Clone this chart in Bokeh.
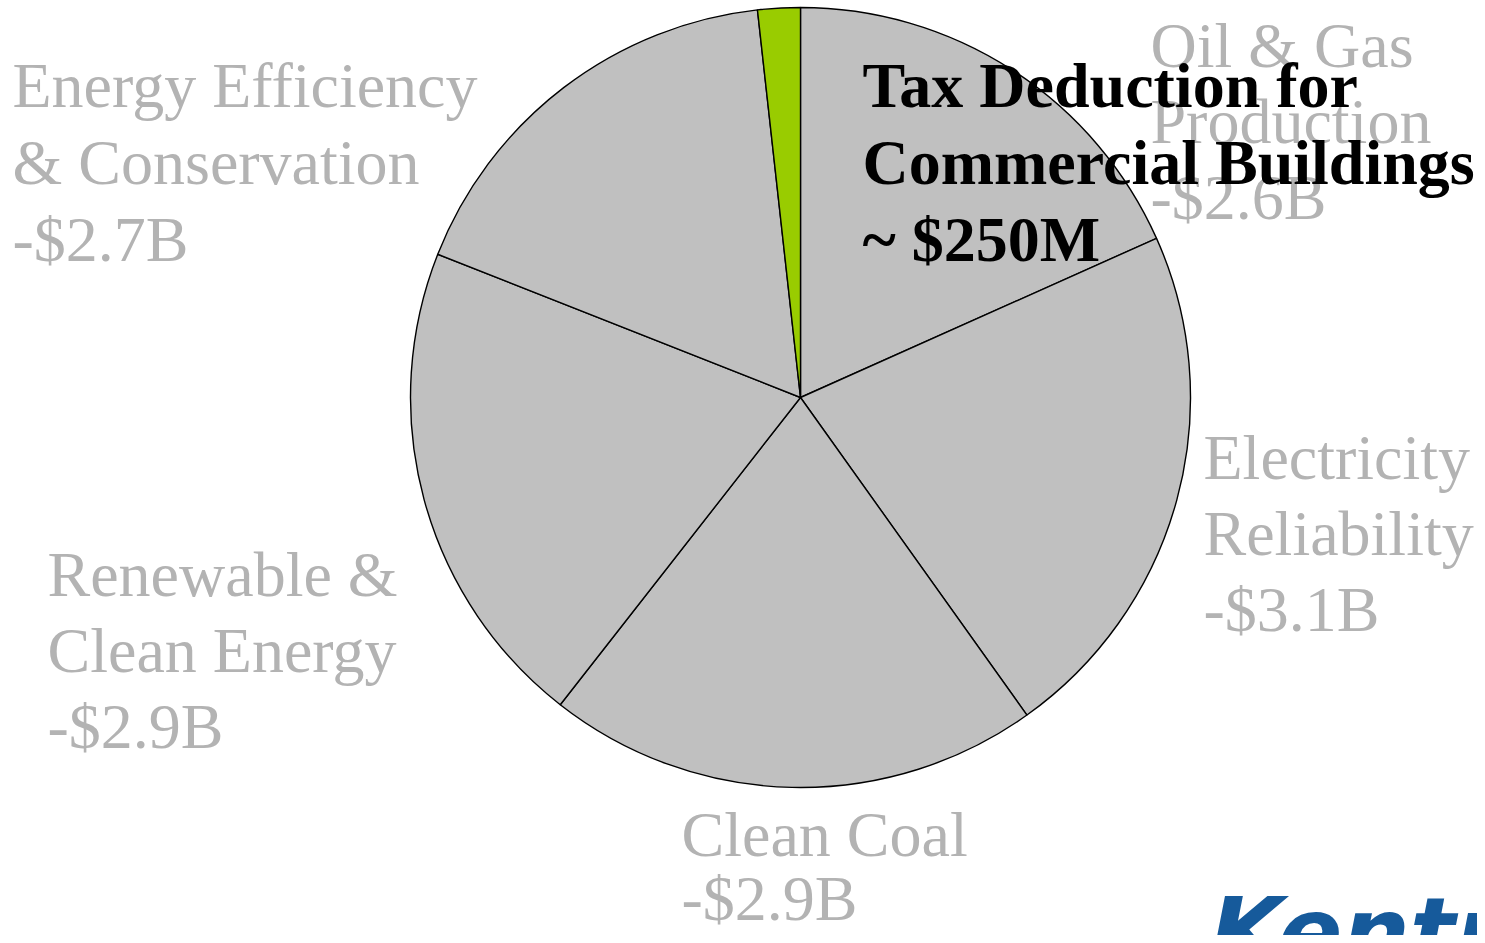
import math
from bokeh.plotting import figure
from bokeh.models import Range1d, ColumnDataSource
from bokeh.core.properties import value
from bokeh.embed import file_html
from bokeh.resources import INLINE

# ---- data ----
slices = ["Oil & Gas Production", "Electricity Reliability", "Clean Coal",
          "Renewable & Clean Energy", "Energy Efficiency & Conservation (other)",
          "Tax Deduction for Commercial Buildings"]
values = [2.6, 3.1, 2.9, 2.9, 2.45, 0.25]   # $ billions
colors = ["#c0c0c0", "#c0c0c0", "#c0c0c0", "#c0c0c0", "#c0c0c0", "#99cc00"]

label_lines = [
    ["Oil & Gas", "Production", "-$2.6B"],
    ["Electricity", "Reliability", "-$3.1B"],
    ["Clean Coal", "-$2.9B"],
    ["Renewable &", "Clean Energy", "-$2.9B"],
    ["Energy Efficiency", "& Conservation", "-$2.7B"],
]
highlight_lines = ["Tax Deduction for", "Commercial Buildings", "~ $250M"]
logo_text = "Kentucky"

# ---- layout (picture pixel positions) ----
W, H = 1477, 935
TXT_OFF = 23  # renderer baseline offset compensation

def Y(py):
    return H - py

def TY(py):
    return H - (py - TXT_OFF)

cx, cy, r = 800, Y(397), 390
label_pos = [  # left x, first baseline (picture y), line step
    (1150, 68, 76),
    (1203, 480, 76),
    (681, 857, 64),
    (47, 597, 76),
    (12, 108, 77),
]
hl_pos = (862, 108, 77)

total = sum(values)
starts, ends = [], []
cum = 0.0
for v in values:
    a0 = cum / total * 2 * math.pi
    cum += v
    a1 = cum / total * 2 * math.pi
    # clockwise from top -> bokeh anticlockwise from +x
    starts.append(math.pi / 2 - a1)
    ends.append(math.pi / 2 - a0)

src = ColumnDataSource(dict(name=slices, val=values, color=colors,
                            start=starts, end=ends))

p = figure(width=W, height=H, x_range=Range1d(0, W), y_range=Range1d(0, H),
           output_backend="svg", toolbar_location=None, min_border=0,
           background_fill_color="white", border_fill_color="white")
p.axis.visible = False
p.grid.visible = False
p.outline_line_color = None

p.wedge(x=cx, y=cy, radius=r, start_angle="start", end_angle="end",
        fill_color="color", line_color="black", line_width=1.4, source=src)

xs, ys, ts = [], [], []
for lines, (lx, ly, step) in zip(label_lines, label_pos):
    for i, t in enumerate(lines):
        xs.append(lx); ys.append(TY(ly + i * step)); ts.append(t)
p.text(x=xs, y=ys, text=ts, text_font=value("Liberation Serif"),
       text_font_size="64px", text_color="#b3b3b3", text_baseline="alphabetic",
       text_align="left")

hx, hy, hstep = hl_pos
p.text(x=[hx] * 3, y=[TY(hy + i * hstep) for i in range(3)], text=highlight_lines,
       text_font=value("Liberation Serif"), text_font_size="64px",
       text_font_style="bold", text_color="black", text_baseline="alphabetic",
       text_align="left")

p.text(x=[1209], y=[TY(954)], text=[logo_text], text_font=value("DejaVu Sans"),
       text_font_size="95px", text_font_style="bold italic", text_color="#165a9b",
       text_baseline="alphabetic", text_align="left")

open("out.html", "w").write(file_html(p, INLINE))
